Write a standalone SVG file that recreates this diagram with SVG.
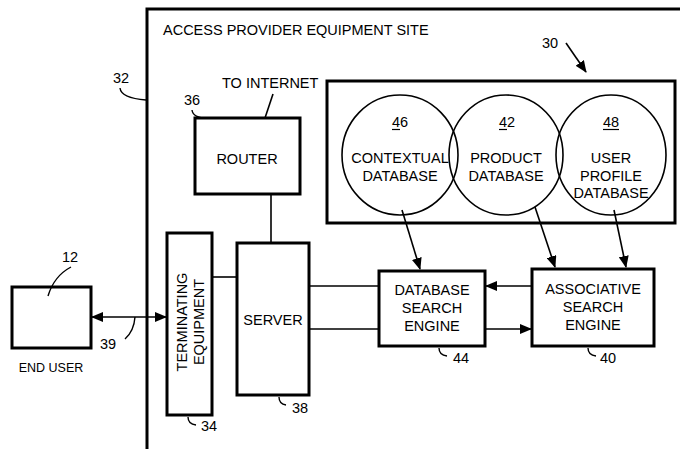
<svg xmlns="http://www.w3.org/2000/svg" width="680" height="449" viewBox="0 0 680 449">
<style>
text{font-family:"Liberation Sans",Arial,sans-serif;font-size:14.5px;fill:#000}
.c{text-anchor:middle}
.box{fill:#fff;stroke:#000;stroke-width:3}
.thin{fill:none;stroke:#000;stroke-width:1.6}
.ell{fill:none;stroke:#000;stroke-width:1.6}
.lead{fill:none;stroke:#000;stroke-width:1.4}
</style>
<defs>
<marker id="ah" markerUnits="userSpaceOnUse" markerWidth="12" markerHeight="10" refX="11" refY="5" orient="auto-start-reverse" viewBox="0 0 12 10">
<path d="M0,0 L12,5 L0,10 Z" fill="#000"/>
</marker>
</defs>
<rect width="680" height="449" fill="#fff"/>

<g id="site">
<path d="M147,449 L147,9 L680,9" fill="none" stroke="#000" stroke-width="3"/>
<text x="163" y="35">ACCESS PROVIDER EQUIPMENT SITE</text>
<text x="113" y="83">32</text>
<path class="lead" d="M120,88 Q121,98 146,100"/>
</g>

<g id="database-group">
<rect class="box" x="327" y="81" width="348" height="142"/>
<text x="542" y="48">30</text>
</g>

<g id="contextual-db">
<ellipse class="ell" cx="400" cy="155" rx="58" ry="60"/>
<text class="c" x="400" y="127">46</text>
<line x1="392" y1="129.5" x2="400" y2="129.5" stroke="#000" stroke-width="1.2"/>
<text class="c" x="400" y="163">CONTEXTUAL</text>
<text class="c" x="400" y="181">DATABASE</text>
</g>

<g id="product-db">
<ellipse class="ell" cx="506" cy="155" rx="57" ry="60"/>
<text class="c" x="507" y="127">42</text>
<line x1="499" y1="129.5" x2="507" y2="129.5" stroke="#000" stroke-width="1.2"/>
<text class="c" x="506" y="163">PRODUCT</text>
<text class="c" x="506" y="181">DATABASE</text>
</g>

<g id="user-profile-db">
<ellipse class="ell" cx="611" cy="155" rx="55" ry="60"/>
<text class="c" x="611" y="127">48</text>
<line x1="603" y1="129.5" x2="619" y2="129.5" stroke="#000" stroke-width="1.2"/>
<text class="c" x="611" y="163">USER</text>
<text class="c" x="611" y="181">PROFILE</text>
<text class="c" x="611" y="198">DATABASE</text>
</g>

<g id="router">
<rect class="box" x="195" y="118" width="105" height="76"/>
<text class="c" x="247" y="164">ROUTER</text>
<text x="222" y="88">TO INTERNET</text>
<text x="184" y="105">36</text>
<path class="lead" d="M192,110 Q193,118 207,118"/>
</g>

<g id="server">
<rect class="box" x="237" y="243" width="72" height="152"/>
<text class="c" x="273" y="325">SERVER</text>
<text x="292" y="413">38</text>
<path class="lead" d="M279,397 Q279,404 286,405"/>
</g>

<g id="terminating-equipment">
<rect class="box" x="167" y="233" width="45" height="182"/>
<text class="c" transform="translate(187,322) rotate(-90)">TERMINATING</text>
<text class="c" transform="translate(204,322) rotate(-90)">EQUIPMENT</text>
<text x="201" y="431">34</text>
<path class="lead" d="M188,417 Q188,424 196,425"/>
</g>

<g id="end-user">
<rect class="box" x="12" y="287" width="79" height="61"/>
<text class="c" x="51" y="372" style="font-size:12.5px">END USER</text>
<text x="62" y="262">12</text>
<path class="lead" d="M71,267 Q54,276 48,296"/>
</g>

<g id="db-search-engine">
<rect class="box" x="379" y="271" width="106" height="75"/>
<text class="c" x="432" y="295">DATABASE</text>
<text class="c" x="432" y="313">SEARCH</text>
<text class="c" x="432" y="331">ENGINE</text>
<text x="453" y="363">44</text>
<path class="lead" d="M439,348 Q439,355 447,356"/>
</g>

<g id="associative-search-engine">
<rect class="box" x="532" y="269" width="122" height="77"/>
<text class="c" x="593" y="294">ASSOCIATIVE</text>
<text class="c" x="593" y="312">SEARCH</text>
<text class="c" x="593" y="330">ENGINE</text>
<text x="600" y="363">40</text>
<path class="lead" d="M588,348 Q588,355 596,356"/>
</g>

<g id="connectors">
<line class="thin" x1="566" y1="43" x2="586" y2="72" marker-end="url(#ah)"/>
<line class="thin" x1="265" y1="118" x2="273" y2="94"/>
<line class="thin" x1="271" y1="195" x2="271" y2="242"/>
<line class="thin" x1="212" y1="277" x2="237" y2="277"/>
<line class="thin" x1="92" y1="317" x2="166" y2="317" marker-start="url(#ah)" marker-end="url(#ah)"/>
<path class="lead" d="M125,339 Q134,331 135,317"/>
<text x="100" y="349">39</text>
<line class="thin" x1="309" y1="286" x2="379" y2="286"/>
<line class="thin" x1="309" y1="329" x2="379" y2="329"/>
<line class="thin" x1="532" y1="286" x2="486" y2="286" marker-end="url(#ah)"/>
<line class="thin" x1="485" y1="329" x2="531" y2="329" marker-end="url(#ah)"/>
<line class="thin" x1="402" y1="210" x2="420" y2="269" marker-end="url(#ah)"/>
<line class="thin" x1="535" y1="207" x2="555" y2="267" marker-end="url(#ah)"/>
<line class="thin" x1="614" y1="210" x2="626" y2="267" marker-end="url(#ah)"/>
</g>
</svg>
